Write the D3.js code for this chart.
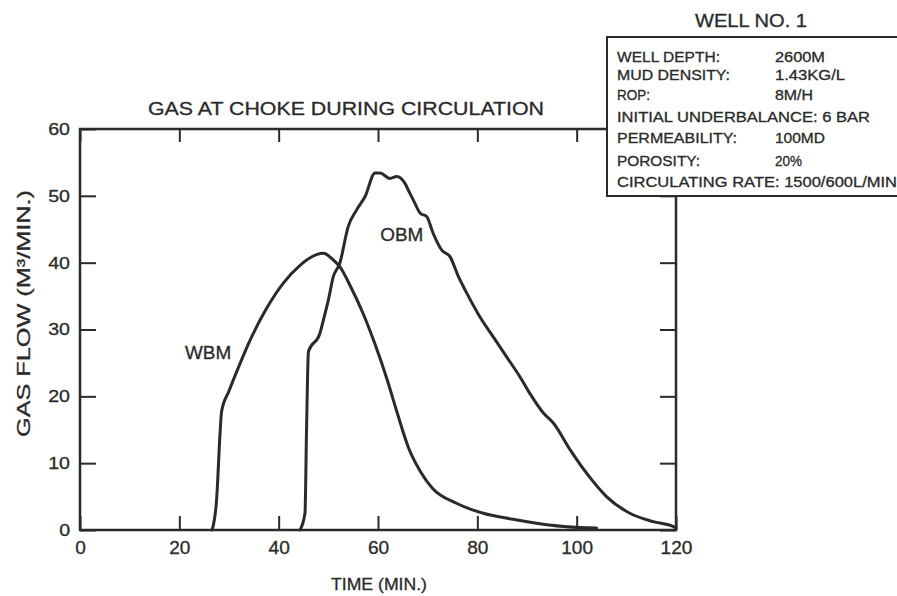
<!DOCTYPE html>
<html><head><meta charset="utf-8">
<script src="https://cdn.jsdelivr.net/npm/d3@7"></script>
<style>
body{margin:0;background:#fff}
svg{display:block}
text{font-family:"Liberation Sans",Arial,Helvetica,sans-serif;fill:#2a2a2a;stroke:#2a2a2a;stroke-width:0.3px}
</style>
</head><body>
<svg id="c" width="897" height="596"></svg>
<script>
// ---- data ----
const xTicks = [0, 20, 40, 60, 80, 100, 120];
const yTicks = [0, 10, 20, 30, 40, 50, 60];

const wbmTime = [26.6, 27.5, 28.2, 28.5, 30.0, 32.0, 34.0, 37.6, 40.9, 44.3, 47.6, 49.0, 51.0, 52.3, 54.5, 57.0, 59.5, 61.8, 64.0, 66.2, 68.5, 71.0, 75.8, 81.2, 87.2, 94.0, 98.0, 104.0];
const wbmFlow = [0.0, 4.5, 14.5, 17.7, 20.8, 24.5, 28.0, 33.2, 36.9, 39.6, 41.2, 41.4, 40.4, 39.4, 36.4, 32.4, 27.6, 22.6, 17.2, 12.2, 8.8, 6.2, 4.0, 2.5, 1.6, 0.8, 0.5, 0.3];

const obmTime = [44.3, 45.3, 45.6, 46.0, 48.3, 49.0, 50.0, 51.0, 52.3, 54.0, 55.7, 57.4, 59.4, 60.4, 62.4, 63.8, 65.4, 66.4, 67.1, 68.5, 69.8, 71.1, 72.8, 74.5, 76.2, 77.9, 80.5, 83.2, 85.9, 88.6, 90.6, 93.3, 95.3, 98.7, 102.0, 106.0, 110.7, 115.4, 119.5, 120.0];
const obmFlow = [0.0, 2.5, 14.5, 26.7, 29.4, 31.4, 34.4, 37.9, 39.9, 45.4, 47.9, 49.9, 53.4, 53.4, 52.6, 52.9, 51.9, 50.4, 49.4, 47.4, 46.9, 44.4, 41.9, 40.9, 37.9, 35.4, 31.9, 28.9, 25.9, 22.9, 20.4, 17.5, 16.0, 12.0, 8.5, 5.0, 2.5, 1.25, 0.5, 0.3];

const seriesNames = ["WBM", "OBM"];
const chartTitle = "GAS AT CHOKE DURING CIRCULATION";
const xTitle = "TIME (MIN.)";
const yTitle = "GAS FLOW (M³/MIN.)";
const wellTitle = "WELL NO. 1";
const infoLabels = ["WELL DEPTH:", "MUD DENSITY:", "ROP:", "INITIAL UNDERBALANCE: 6 BAR", "PERMEABILITY:", "POROSITY:", "CIRCULATING RATE: 1500/600L/MIN"];
const infoValues = ["2600M", "1.43KG/L", "8M/H", "", "100MD", "20%", ""];

// ---- layout ----
const ink = "#2a2a2a";
const L = 80, R = 676, T = 129, B = 530;
const svg = d3.select("#c");
const x = d3.scaleLinear().domain([0, 120]).range([L, R]);
const y = d3.scaleLinear().domain([0, 60]).range([B, T]);

function widen(sel, k) {
  sel.each(function () {
    const w = this.getComputedTextLength();
    d3.select(this).attr("textLength", w * k).attr("lengthAdjust", "spacingAndGlyphs");
  });
}

const g = svg.append("g");

// bottom axis (ticks inward)
const xb = g.append("g").attr("transform", `translate(0,${B})`)
  .call(d3.axisBottom(x).tickValues(xTicks).tickSizeInner(-14).tickSizeOuter(0).tickPadding(11));
xb.selectAll("text").attr("font-size", 18).style("font-family", '"Liberation Sans",Arial,sans-serif').attr("fill", ink);
widen(xb.selectAll("text"), 1.06);
// top axis
const xt = g.append("g").attr("transform", `translate(0,${T})`)
  .call(d3.axisTop(x).tickValues(xTicks).tickSizeInner(-13).tickSizeOuter(0).tickFormat(""));
// left axis
const yl = g.append("g").attr("transform", `translate(${L},0)`)
  .call(d3.axisLeft(y).tickValues(yTicks).tickSizeInner(-16).tickSizeOuter(0).tickPadding(10));
yl.selectAll("text").attr("font-size", 17).style("font-family", '"Liberation Sans",Arial,sans-serif').attr("fill", ink);
widen(yl.selectAll("text"), 1.15);
// right axis
const yr = g.append("g").attr("transform", `translate(${R},0)`)
  .call(d3.axisRight(y).tickValues(yTicks).tickSizeInner(-16).tickSizeOuter(0).tickFormat(""));

[xb, xt, yl, yr].forEach(a => {
  a.select(".domain").remove();
  a.selectAll(".tick line").attr("stroke", ink).attr("stroke-width", 2);
});

// frame
g.append("rect").attr("x", L).attr("y", T).attr("width", R - L).attr("height", B - T)
  .attr("fill", "none").attr("stroke", ink).attr("stroke-width", 2.5);

// curves
const line = d3.line().x(d => x(d[0])).y(d => y(d[1])).curve(d3.curveMonotoneX);
const wbm = wbmTime.map((t, i) => [t, wbmFlow[i]]);
const obm = obmTime.map((t, i) => [t, obmFlow[i]]);
[wbm, obm].forEach(s => {
  g.append("path").datum(s).attr("d", line).attr("fill", "none")
    .attr("stroke", ink).attr("stroke-width", 3).attr("stroke-linejoin", "round").attr("stroke-linecap", "round");
});

// series labels
const lw = g.append("text").attr("x", x(25.8)).attr("y", y(25.6)).attr("text-anchor", "middle")
  .attr("font-size", 18).text(seriesNames[0]);
const lo = g.append("text").attr("x", x(64.8)).attr("y", y(43.2)).attr("text-anchor", "middle")
  .attr("font-size", 18).text(seriesNames[1]);
widen(lw, 1.05); widen(lo, 1.05);

// titles
svg.append("text").attr("x", 148).attr("y", 115).attr("font-size", 18)
  .attr("textLength", 396).attr("lengthAdjust", "spacingAndGlyphs").text(chartTitle);
svg.append("text").attr("x", 331).attr("y", 590).attr("font-size", 17)
  .attr("textLength", 96).attr("lengthAdjust", "spacingAndGlyphs").text(xTitle);
svg.append("text").attr("transform", "translate(30,437) rotate(-90)").attr("font-size", 19)
  .attr("textLength", 247).attr("lengthAdjust", "spacingAndGlyphs").text(yTitle);

// info box
svg.append("text").attr("x", 695).attr("y", 27).attr("font-size", 18)
  .attr("textLength", 112).attr("lengthAdjust", "spacingAndGlyphs").text(wellTitle);
svg.append("rect").attr("x", 607).attr("y", 37).attr("width", 320).attr("height", 159)
  .attr("fill", "#fff").attr("stroke", ink).attr("stroke-width", 2);

const rowY = [62, 80, 100, 122, 143, 166, 187];
const labelW = [103, 113, 33, 253, 120, 83, 280];
const valueW = [50, 70, 38, 0, 50, 27, 0];
infoLabels.forEach((s, i) => {
  svg.append("text").attr("x", 617).attr("y", rowY[i]).attr("font-size", 14)
    .attr("textLength", labelW[i]).attr("lengthAdjust", "spacingAndGlyphs").text(s);
  if (infoValues[i]) {
    svg.append("text").attr("x", 775).attr("y", rowY[i]).attr("font-size", 14)
      .attr("textLength", valueW[i]).attr("lengthAdjust", "spacingAndGlyphs").text(infoValues[i]);
  }
});
</script>
</body></html>
